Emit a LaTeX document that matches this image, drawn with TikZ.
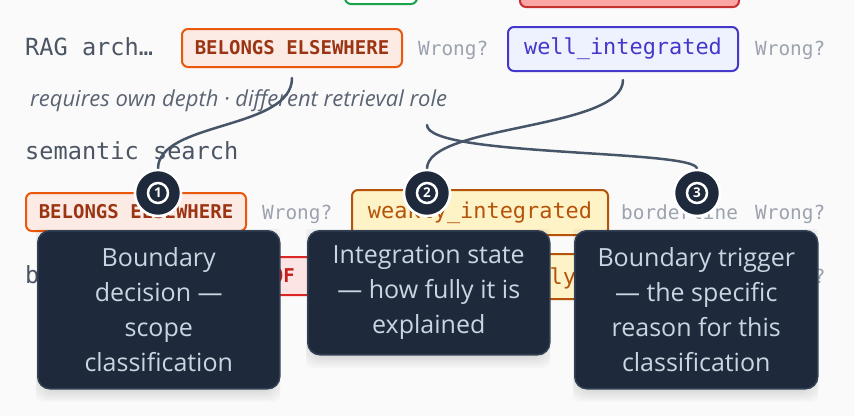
\documentclass[tikz,border=0pt]{standalone}
\usepackage{fontspec}
\setmainfont{Open Sans}
\newfontfamily\monofont{DejaVu Sans Mono}
\newfontfamily\uifont{Open Sans}
\definecolor{bg}{HTML}{FAFAFA}
\definecolor{labelgray}{HTML}{4B5563}
\definecolor{wronggray}{HTML}{9CA3AF}
\definecolor{italgray}{HTML}{5B6472}
\definecolor{orbord}{HTML}{EA580C}
\definecolor{orfill}{HTML}{FBEBE4}
\definecolor{ortext}{HTML}{9A3412}
\definecolor{blbord}{HTML}{4338CA}
\definecolor{blfill}{HTML}{EEF2FF}
\definecolor{yebord}{HTML}{B45309}
\definecolor{yefill}{HTML}{FEF3C7}
\definecolor{rdbord}{HTML}{DC2626}
\definecolor{rdfill}{HTML}{FCE4E4}
\definecolor{rdtext}{HTML}{C81E1E}
\definecolor{topredfill}{HTML}{FCA5A5}
\definecolor{topredbord}{HTML}{C53030}
\definecolor{grbord}{HTML}{16A34A}
\definecolor{calfill}{HTML}{1E293B}
\definecolor{calbord}{HTML}{334155}
\definecolor{caltext}{HTML}{CBD5E1}
\definecolor{connc}{HTML}{475569}
\begin{document}
\begin{tikzpicture}[x=1pt,y=-1pt,
  lbl/.style={anchor=base west, inner sep=0, text=labelgray, font=\monofont\fontsize{23.6}{28}\selectfont},
  wrong/.style={anchor=base west, inner sep=0, text=wronggray, font=\monofont\fontsize{19.4}{24}\selectfont},
  tag/.style={draw, line width=2pt, rounded corners=6pt, inner sep=0},
  belongs/.style={tag, draw=orbord, fill=orfill, text=ortext, font=\monofont\bfseries\fontsize{19}{24}\selectfont, minimum width=220pt, minimum height=38pt},
  welltag/.style={tag, draw=blbord, fill=blfill, text=blbord, font=\monofont\fontsize{21.9}{26}\selectfont, minimum width=230pt, minimum height=44pt},
  weaktag/.style={tag, draw=yebord, fill=yefill, text=yebord, font=\monofont\fontsize{21.9}{26}\selectfont, minimum width=256pt, minimum height=45pt},
  redtag/.style={tag, draw=rdbord, fill=rdfill, text=rdtext, font=\monofont\bfseries\fontsize{19}{24}\selectfont},
  ital/.style={anchor=base west, inner sep=0, text=italgray, font=\uifont\itshape\fontsize{22}{26}\selectfont},
  conn/.style={draw=connc, line width=2.5pt, line cap=round},
  callout/.style={fill=calfill, draw=calbord, line width=1.5pt, rounded corners=12pt, text=caltext, align=center, anchor=north west, inner sep=0, font=\uifont\fontsize{25}{35}\selectfont},
  badge/.style={circle, fill=calfill, draw=white, line width=2.5pt, minimum size=46pt, inner sep=0},
  ring/.style={draw=white, line width=2.5pt},
  digit/.style={text=white, inner sep=0, font=\uifont\bfseries\fontsize{13.5}{13.5}\selectfont}
]
\useasboundingbox (0,0) rectangle (854,416);
\clip (0,0) rectangle (854,416);
\fill[bg] (0,0) rectangle (854,416);

% partially visible boxes at the top
\node[tag, draw=grbord, fill=white, minimum width=72pt, minimum height=34pt] (g0) at (381,-13) {};
\node[tag, draw=topredbord, fill=topredfill, minimum width=219pt, minimum height=38pt] (r0) at (629.5,-12) {};

% row 1
\node[lbl] (l1) at (25,55) {RAG arch…};
\node[belongs] (b1) at (292,48) {BELONGS ELSEWHERE};
\node[wrong] (w1) at (418,55) {Wrong?};
\node[welltag] (i1) at (623,49) {well\_integrated};
\node[wrong] (w2) at (755,55) {Wrong?};

% trigger text
\node[ital] (t1) at (30,106.5) {requires own depth · different retrieval role};

% row 3/4
\node[lbl] (l2) at (25,159) {semantic search};
\node[belongs] (b2) at (136,212) {BELONGS ELSEWHERE};
\node[wrong] (w3) at (262,219) {Wrong?};
\node[weaktag] (i2) at (480,212.5) {weakly\_integrated};
\node[wrong] (bl) at (621,219) {borderline};
\node[wrong] (w4) at (755,219) {Wrong?};

% row 5 (mostly hidden)
\node[lbl] (l3) at (25,283) {b};
\node[redtag, minimum width=190pt, minimum height=38pt] (r5) at (325,276) {};
\node[anchor=base east, inner sep=0, text=rdtext, font=\monofont\bfseries\fontsize{19}{24}\selectfont] (of) at (295,282) {OF};
\node[weaktag, minimum width=220pt, minimum height=45pt] (y5) at (590,276.5) {};
\node[anchor=base west, inner sep=0, text=yebord, font=\monofont\fontsize{21.9}{26}\selectfont] (ly) at (549.5,284) {ly};
\node[wrong] (q5) at (813.7,283) {?};

% connectors
\coordinate (s1) at ([yshift=-10pt]b1.south);
\coordinate (s2) at ([yshift=-8pt]i1.south);
\coordinate (s3) at (427,125);
\node[badge] (n1) at (158,193) {};
\node[badge] (n2) at (427,193) {};
\node[badge] (n3) at (697,193) {};
\draw[conn] (s1) .. controls +(0,52) and +(0,-47.5) .. (n1.north);
\draw[conn] (s2) .. controls +(0,50) and +(0,-44.5) .. (n2.north);
\draw[conn] (s3) .. controls +(0,32) and +(0,-19.5) .. (n3.north);

% callout shadows
\foreach \xa/\xb/\yb in {37/279/388, 307/549/354, 574/817/388}{
  \begin{scope}
    \clip (\xa-1,229) rectangle (\xb+1,\yb+13);
    \foreach \e in {0,2,...,12}{
      \fill[black, opacity=0.02, rounded corners=14pt] (\xa+6-\e,236-\e) rectangle (\xb-6+\e,\yb+2+\e);
    }
  \end{scope}
}

% callouts
\node[callout, minimum width=242pt, minimum height=158pt] (c1) at (37,230) {Boundary\\decision —\\scope\\classification};
\node[callout, minimum width=242pt, minimum height=124pt] (c2) at (307,230) {Integration state\\— how fully it is\\explained};
\node[callout, minimum width=243pt, minimum height=158pt] (c3) at (574,230) {Boundary trigger\\— the specific\\reason for this\\classification};

% badges on top
\node[badge] (m1) at (158,193) {};
\node[badge] (m2) at (427,193) {};
\node[badge] (m3) at (697,193) {};
\draw[ring] (m1.center) circle (10);
\draw[ring] (m2.center) circle (10);
\draw[ring] (m3.center) circle (10);
\node[digit] (d1) at (m1.center) {1};
\node[digit] (d2) at (m2.center) {2};
\node[digit] (d3) at (m3.center) {3};
\end{tikzpicture}
\end{document}
